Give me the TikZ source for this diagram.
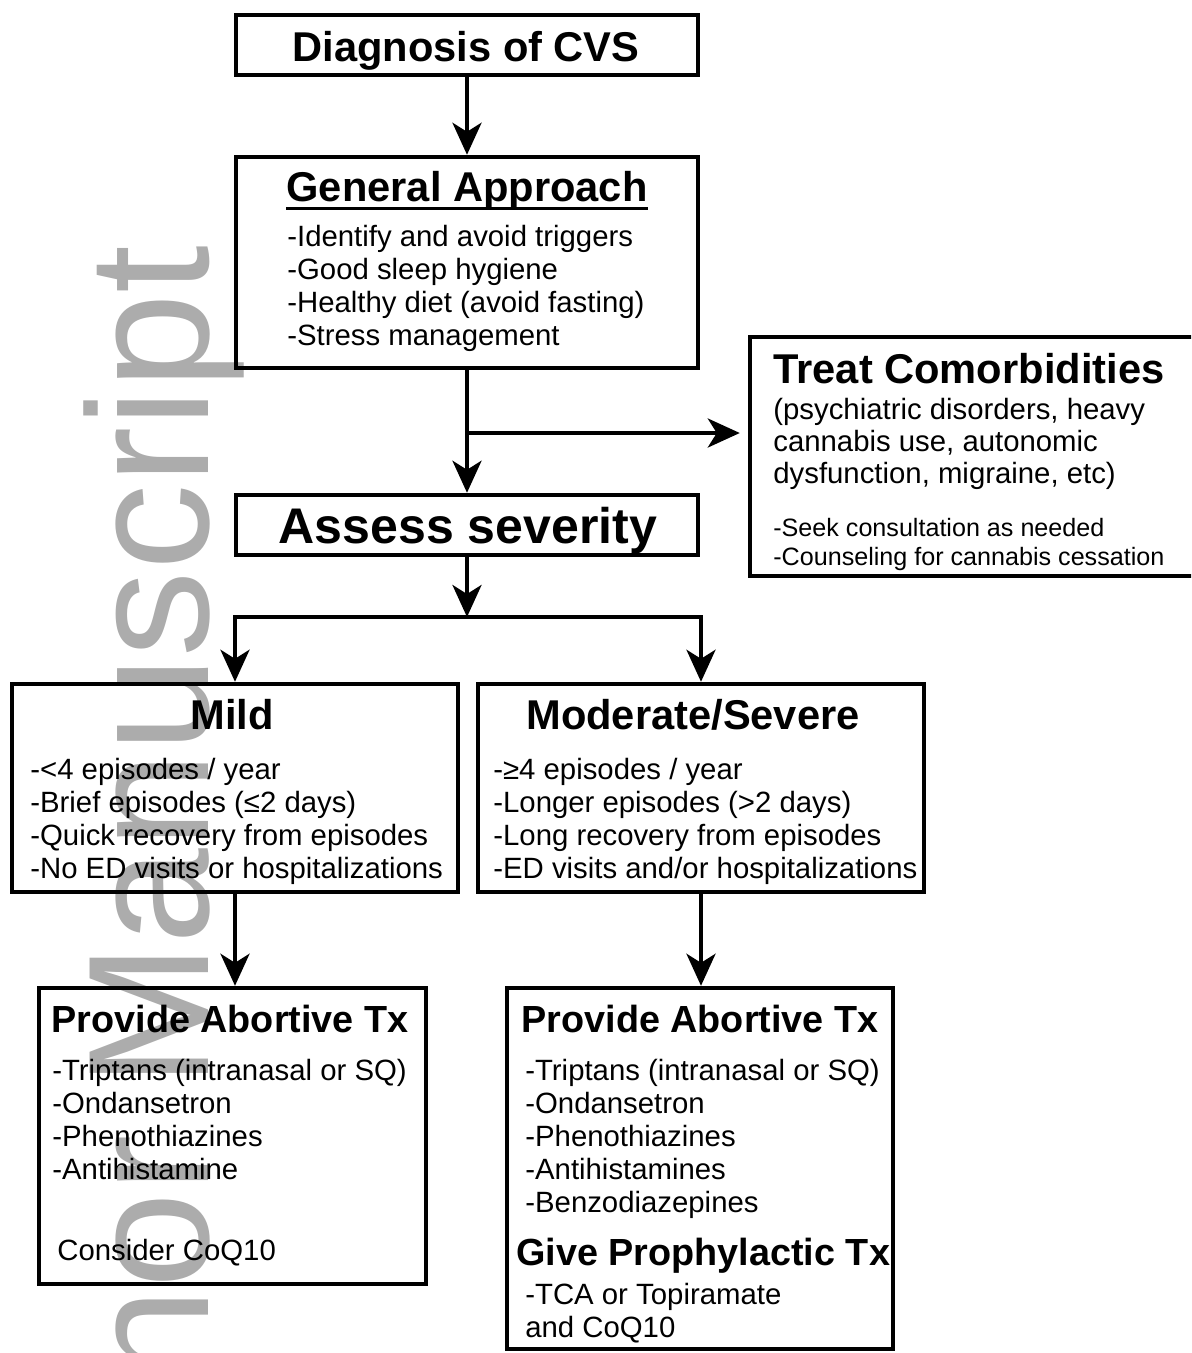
\documentclass[tikz,border=0pt]{standalone}
\usepackage{fontspec}
\setmainfont{Liberation Sans}
\usetikzlibrary{arrows.meta}

\begin{document}
\begin{tikzpicture}[x=0.02cm,y=-0.02cm,
  box/.style={draw,line width=0.09cm,inner sep=0},
  conn/.style={line width=0.08cm},
  arr/.style={conn,-{Stealth[length=0.64cm,width=0.58cm,inset=0.18cm]}},
  head/.style={inner sep=0,anchor=base,font=\bfseries\fontsize{23.7pt}{28pt}\selectfont},
  subhead/.style={inner sep=0,anchor=base,font=\bfseries\fontsize{21.5pt}{26pt}\selectfont},
  item/.style={inner sep=0,anchor=base west,font=\fontsize{16.7pt}{19pt}\selectfont},
  note/.style={inner sep=0,anchor=base west,font=\fontsize{14.3pt}{17pt}\selectfont},
  wmark/.style={inner sep=0,text=gray!65,font=\fontsize{98pt}{98pt}\selectfont}]
\useasboundingbox (0,0) rectangle (1191,1353);
\clip (0,0) rectangle (1191,1353);

\node[wmark,rotate=90,anchor=base east] (wm) at (208,245) {Author Manuscript}; % watermark

% boxes
\node[box,minimum width=9.24cm,minimum height=1.2cm] (diag) at (467,45) {};
\node[box,minimum width=9.24cm,minimum height=4.22cm] (gen) at (467,262.5) {};
\node[box,minimum width=8.94cm,minimum height=4.78cm] (treat) at (973.5,456.5) {};
\node[box,minimum width=9.24cm,minimum height=1.2cm] (assess) at (467,525) {};
\node[box,minimum width=8.92cm,minimum height=4.16cm] (mild) at (235,788) {};
\node[box,minimum width=8.92cm,minimum height=4.16cm] (mod) at (701,788) {};
\node[box,minimum width=7.74cm,minimum height=5.92cm] (abl) at (232.5,1136) {};
\node[box,minimum width=7.72cm,minimum height=7.22cm] (abr) at (700,1168.5) {};

% texts
\node[head] (diagt) at (466,61) {Diagnosis of CVS};
\node[head] (gent) at (467,201) {General Approach};
\draw[line width=0.05cm] ([yshift=-0.15cm]gent.base west) -- ([yshift=-0.15cm]gent.base east);
\foreach \t [count=\i] in {-Identify and avoid triggers,-Good sleep hygiene,{-Healthy diet (avoid fasting)},-Stress management}
  \node[item] (gen-\i) at (287,{213+33*\i}) {\t};

\node[head,anchor=base west] (treatt) at (773,383) {Treat Comorbidities};
\foreach \t [count=\i] in {{(psychiatric disorders, heavy},{cannabis use, autonomic},{dysfunction, migraine, etc)}}
  \node[item] (treat-\i) at (773,{387+32*\i}) {\t};
\node[note] (treat-4) at (773,536) {-Seek consultation as needed};
\node[note] (treat-5) at (773,565) {-Counseling for cannabis cessation};

\node[inner sep=0,anchor=base,font=\bfseries\fontsize{28.5pt}{34pt}\selectfont] (assesst) at (468,543) {Assess severity};

\node[head] (mildt) at (232,729) {Mild};
\foreach \t [count=\i] in {-<4 episodes / year,{-Brief episodes (≤2 days)},-Quick recovery from episodes,-No ED visits or hospitalizations}
  \node[item] (mild-\i) at (30,{746+33*\i}) {\t};

\node[head] (modt) at (693,729) {Moderate/Severe};
\foreach \t [count=\i] in {-≥4 episodes / year,{-Longer episodes (>2 days)},-Long recovery from episodes,-ED visits and/or hospitalizations}
  \node[item] (mod-\i) at (493,{746+33*\i}) {\t};

\node[subhead] (ablt) at (230,1032) {Provide Abortive Tx};
\foreach \t [count=\i] in {{-Triptans (intranasal or SQ)},-Ondansetron,-Phenothiazines,-Antihistamine}
  \node[item] (abl-\i) at (52,{1047+33*\i}) {\t};
\node[item] (abl-5) at (57,1260) {Consider CoQ10};

\node[subhead] (abrt) at (700,1032) {Provide Abortive Tx};
\foreach \t [count=\i] in {{-Triptans (intranasal or SQ)},-Ondansetron,-Phenothiazines,-Antihistamines,-Benzodiazepines}
  \node[item] (abr-\i) at (525,{1047+33*\i}) {\t};
\node[subhead,anchor=base west] (prot) at (516,1265) {Give Prophylactic Tx};
\node[item] (pro-1) at (525,1304) {-TCA or Topiramate};
\node[item] (pro-2) at (525,1337) {and CoQ10};

% connectors
\coordinate (branch) at (467,433);
\coordinate (split) at (467,617);
\draw[arr] (diag) -- (gen);
\draw[arr] (gen) -- (assess);
\draw[arr,shorten >=0.16cm] (branch) -- (treat.west |- branch);
\draw[arr] (assess) -- (split);
\draw[conn,line cap=rect] (mild.north |- split) -- (mod.north |- split);
\draw[arr] (mild.north |- split) -- (mild);
\draw[arr] (mod.north |- split) -- (mod);
\draw[arr] (mild.south) -- (mild.south |- abl.north);
\draw[arr] (mod.south) -- (mod.south |- abr.north);
\end{tikzpicture}
\end{document}
